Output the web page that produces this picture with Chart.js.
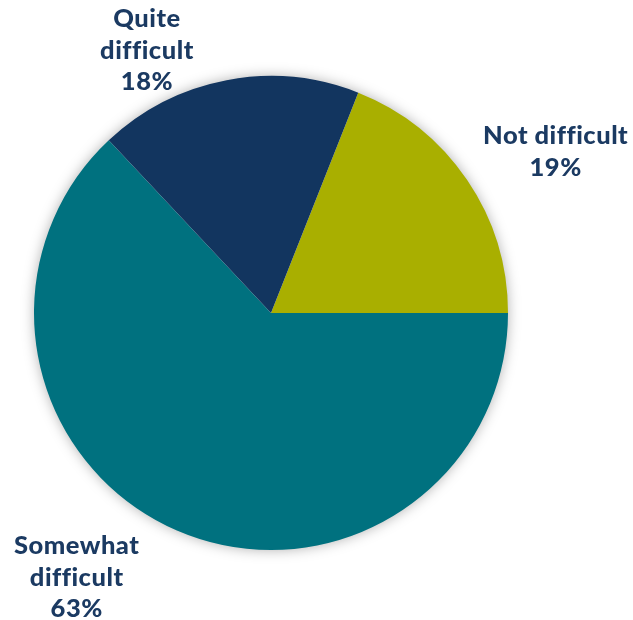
<!DOCTYPE html>
<html>
<head>
<meta charset="utf-8">
<script src="https://cdn.jsdelivr.net/npm/chart.js@4/dist/chart.umd.min.js"></script>
<style>
  html, body { margin: 0; padding: 0; background: #ffffff; }
  #wrap { width: 633px; height: 620px; position: relative; }
</style>
</head>
<body>
<div id="wrap"><canvas id="pie"></canvas></div>
<script>
// Survey answers and their shares (percent)
const categories = ['Not difficult', 'Somewhat difficult', 'Quite difficult'];
const shares = [19, 63, 18];
const labelLines = [['Not difficult'], ['Somewhat', 'difficult'], ['Quite', 'difficult']];

const sliceColors = ['#A9AF00', '#00717F', '#12355F'];
const textColor = '#1B3A62';

// Where each outside label sits: direction (degrees clockwise from 12 o'clock)
// and distance from the centre in multiples of the pie radius
const labelSpots = [
  { angle: 60.5, dist: 1.38 },
  { angle: 216.3, dist: 1.385 },
  { angle: -25.3, dist: 1.225 }
];

// Soft grey halo underneath the pie
const pieShadow = {
  id: 'pieShadow',
  beforeDatasetsDraw(chart) {
    const arc = chart.getDatasetMeta(0).data[0];
    if (!arc) return;
    const ctx = chart.ctx;
    ctx.save();
    ctx.shadowColor = 'rgba(0,0,0,0.35)';
    ctx.shadowBlur = 14;
    ctx.fillStyle = '#ffffff';
    ctx.beginPath();
    ctx.arc(arc.x, arc.y, arc.outerRadius - 1, 0, Math.PI * 2);
    ctx.fill();
    ctx.restore();
  }
};

// Category name plus percentage, drawn outside each slice
const outsideLabels = {
  id: 'outsideLabels',
  afterDatasetsDraw(chart) {
    const meta = chart.getDatasetMeta(0);
    const ctx = chart.ctx;
    const values = chart.data.datasets[0].data;
    ctx.save();
    ctx.fillStyle = textColor;
    ctx.font = '900 25.5px Lato';
    if ('letterSpacing' in ctx) ctx.letterSpacing = '0.5px';
    ctx.textAlign = 'center';
    ctx.textBaseline = 'middle';
    const lineH = 31.5;
    meta.data.forEach((arc, i) => {
      const spot = labelSpots[i];
      const a = spot.angle * Math.PI / 180;
      const r = arc.outerRadius * spot.dist;
      const cx = arc.x + Math.sin(a) * r;
      const cy = arc.y - Math.cos(a) * r;
      const lines = labelLines[i].concat([values[i] + '%']);
      const top = cy - (lines.length - 1) * lineH / 2;
      lines.forEach((t, k) => ctx.fillText(t, cx, top + k * lineH));
    });
    ctx.restore();
  }
};

new Chart(document.getElementById('pie'), {
  type: 'pie',
  data: {
    labels: categories,
    datasets: [{
      data: shares,
      backgroundColor: sliceColors,
      borderWidth: 0
    }]
  },
  options: {
    responsive: true,
    maintainAspectRatio: false,
    animation: false,
    rotation: 90 - shares[0] * 3.6,
    layout: { padding: { left: 34, right: 125, top: 76, bottom: 70 } },
    plugins: {
      legend: { display: false },
      tooltip: { enabled: false }
    }
  },
  plugins: [pieShadow, outsideLabels]
});
</script>
</body>
</html>
